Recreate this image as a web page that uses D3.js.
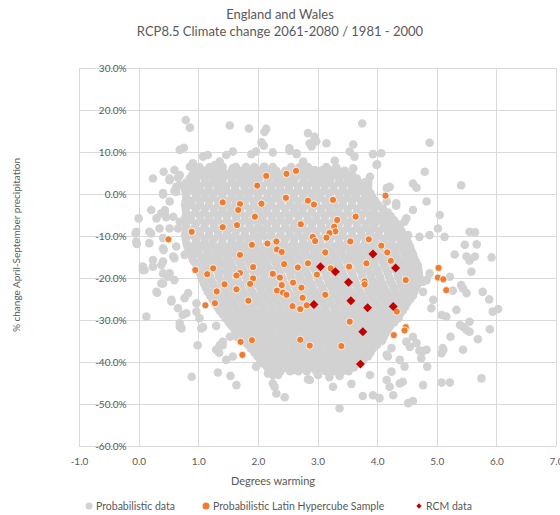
<!DOCTYPE html>
<html><head><meta charset="utf-8">
<script src="https://cdn.jsdelivr.net/npm/d3@7"></script>
<style>
html,body{margin:0;padding:0;background:#fff;}
svg{display:block;font-family:Lato,"Open Sans",sans-serif;}
</style></head>
<body><svg id="c" width="560" height="515"></svg>
<script>
const titleLines = ["England and Wales", "RCP8.5 Climate change 2061-2080 / 1981 - 2000"];
const xLabel = "Degrees warming";
const yLabel = "% change April-September precipitation";
const xTicks = [-1,0,1,2,3,4,5,6,7];
const yTicks = [30,20,10,0,-10,-20,-30,-40,-50,-60];
const seriesNames = ["Probabilistic data","Probabilistic Latin Hypercube Sample","RCM data"];

// Probabilistic data: dense core read row by row [y%, [x...]]
const probRows = [
 [6.4,[1.02,1.19,1.34,1.63,1.8,1.94,2.1,2.25,2.56,2.7,2.84,3.15,3.31]],
 [5.5,[0.97,1.11,1.26,1.41,1.56,1.71,1.86,2.01,2.16,2.31,2.46,2.62,2.76,2.91,3.06,3.21,3.36,3.46]],
 [4.6,[0.9,1.04,1.18,1.35,1.49,1.62,1.79,1.93,2.06,2.22,2.38,2.55,2.67,2.83,2.99,3.12,3.28,3.44,3.58]],
 [3.7,[0.86,0.97,1.12,1.27,1.42,1.57,1.72,1.87,2.02,2.17,2.32,2.47,2.62,2.77,2.92,3.07,3.22,3.37,3.52,3.66]],
 [2.8,[0.8,0.95,1.11,1.25,1.39,1.56,1.7,1.84,1.99,2.16,2.3,2.44,2.59,2.76,2.9,3.04,3.19,3.36,3.5,3.64,3.8]],
 [1.9,[0.79,0.87,1.02,1.17,1.32,1.47,1.62,1.77,1.92,2.07,2.22,2.37,2.52,2.67,2.82,2.97,3.12,3.27,3.42,3.57,3.72,3.82]],
 [1.0,[0.78,0.9,1.03,1.18,1.34,1.47,1.62,1.79,1.93,2.07,2.23,2.38,2.52,2.67,2.83,2.98,3.12,3.27,3.43,3.58,3.72,3.85]],
 [0.1,[0.79,0.96,1.11,1.26,1.41,1.56,1.71,1.86,2.01,2.16,2.31,2.46,2.61,2.76,2.91,3.06,3.21,3.36,3.51,3.66,3.8,3.89]],
 [-0.8,[0.8,0.96,1.1,1.24,1.4,1.56,1.7,1.84,2.0,2.16,2.3,2.44,2.6,2.76,2.9,3.04,3.2,3.36,3.5,3.64,3.8,3.92]],
 [-1.7,[0.79,0.88,1.03,1.18,1.33,1.48,1.63,1.78,1.93,2.08,2.23,2.38,2.53,2.68,2.83,2.98,3.13,3.28,3.43,3.58,3.73,3.86,3.97]],
 [-2.6,[0.78,0.89,1.03,1.18,1.34,1.48,1.62,1.78,1.94,2.08,2.22,2.38,2.54,2.68,2.82,2.98,3.14,3.28,3.42,3.58,3.74,3.88,4.02]],
 [-3.5,[0.79,0.96,1.11,1.26,1.41,1.56,1.71,1.86,2.01,2.16,2.31,2.46,2.61,2.76,2.91,3.06,3.21,3.36,3.51,3.66,3.81,3.96,4.1]],
 [-4.4,[0.8,0.95,1.1,1.26,1.4,1.54,1.7,1.86,2.0,2.14,2.3,2.46,2.6,2.74,2.9,3.06,3.2,3.34,3.5,3.66,3.8,3.94,4.1,4.18]],
 [-5.3,[0.79,0.88,1.03,1.18,1.33,1.48,1.63,1.78,1.93,2.08,2.23,2.38,2.53,2.68,2.83,2.98,3.13,3.28,3.43,3.58,3.73,3.88,4.03,4.15,4.23]],
 [-6.2,[0.78,0.88,1.04,1.18,1.32,1.48,1.64,1.78,1.92,2.08,2.24,2.38,2.52,2.68,2.84,2.98,3.12,3.28,3.44,3.58,3.72,3.88,4.04,4.17,4.28]],
 [-7.1,[0.79,0.96,1.11,1.26,1.41,1.56,1.71,1.86,2.01,2.16,2.31,2.46,2.61,2.76,2.91,3.06,3.21,3.36,3.51,3.66,3.81,3.96,4.11,4.24,4.33]],
 [-8.0,[0.8,0.94,1.1,1.26,1.4,1.54,1.7,1.86,2.0,2.14,2.3,2.46,2.6,2.74,2.9,3.06,3.2,3.34,3.5,3.66,3.8,3.94,4.1,4.25,4.37]],
 [-8.9,[0.79,0.88,1.03,1.18,1.33,1.48,1.63,1.78,1.93,2.08,2.23,2.38,2.53,2.68,2.83,2.98,3.13,3.28,3.43,3.58,3.73,3.88,4.03,4.18,4.31,4.41]],
 [-9.8,[0.78,0.89,1.03,1.18,1.34,1.48,1.62,1.78,1.94,2.08,2.22,2.38,2.54,2.68,2.82,2.98,3.14,3.28,3.42,3.58,3.74,3.88,4.02,4.18,4.32,4.45]],
 [-10.7,[0.79,0.96,1.11,1.26,1.41,1.56,1.71,1.86,2.01,2.16,2.31,2.46,2.61,2.76,2.91,3.06,3.21,3.36,3.51,3.66,3.81,3.96,4.11,4.26,4.39,4.49]],
 [-11.6,[0.8,0.96,1.1,1.24,1.4,1.56,1.7,1.84,2.0,2.16,2.3,2.44,2.6,2.76,2.9,3.04,3.2,3.36,3.5,3.64,3.8,3.96,4.1,4.24,4.4,4.52]],
 [-12.5,[0.82,0.91,1.06,1.21,1.36,1.51,1.66,1.81,1.96,2.11,2.26,2.41,2.56,2.71,2.86,3.01,3.16,3.31,3.46,3.61,3.76,3.91,4.06,4.21,4.36,4.48,4.55]],
 [-13.4,[0.84,0.98,1.14,1.28,1.42,1.58,1.74,1.88,2.02,2.18,2.34,2.48,2.62,2.78,2.94,3.08,3.22,3.38,3.54,3.68,3.82,3.98,4.14,4.28,4.43,4.57]],
 [-14.3,[0.87,1.01,1.16,1.31,1.46,1.61,1.76,1.91,2.06,2.21,2.36,2.51,2.66,2.81,2.96,3.11,3.26,3.41,3.56,3.71,3.86,4.01,4.16,4.31,4.46,4.6]],
 [-15.2,[0.9,1.06,1.2,1.34,1.5,1.66,1.8,1.94,2.1,2.26,2.4,2.54,2.7,2.86,3.0,3.14,3.3,3.46,3.6,3.74,3.9,4.06,4.2,4.34,4.5,4.62]],
 [-16.1,[0.93,1.09,1.24,1.39,1.54,1.69,1.84,1.99,2.14,2.29,2.44,2.59,2.74,2.89,3.04,3.19,3.34,3.49,3.64,3.79,3.94,4.09,4.24,4.39,4.53,4.65]],
 [-17.0,[0.97,1.12,1.28,1.42,1.56,1.72,1.88,2.02,2.16,2.32,2.48,2.62,2.76,2.92,3.08,3.22,3.36,3.52,3.68,3.82,3.96,4.12,4.28,4.42,4.57,4.68]],
 [-17.9,[1.0,1.15,1.3,1.45,1.6,1.75,1.9,2.05,2.2,2.35,2.5,2.65,2.8,2.95,3.1,3.25,3.4,3.55,3.7,3.85,4.0,4.15,4.3,4.45,4.59,4.69]],
 [-18.8,[1.03,1.18,1.34,1.48,1.62,1.78,1.94,2.08,2.22,2.38,2.54,2.68,2.82,2.98,3.14,3.28,3.42,3.58,3.74,3.88,4.02,4.18,4.34,4.48,4.62,4.7]],
 [-19.7,[1.05,1.2,1.35,1.5,1.65,1.8,1.95,2.1,2.25,2.4,2.55,2.7,2.85,3.0,3.15,3.3,3.45,3.6,3.75,3.9,4.05,4.2,4.35,4.5,4.63,4.71]],
 [-20.6,[1.08,1.22,1.38,1.52,1.66,1.82,1.98,2.12,2.26,2.42,2.58,2.72,2.86,3.02,3.18,3.32,3.46,3.62,3.78,3.92,4.06,4.22,4.38,4.52,4.65,4.72]],
 [-21.5,[1.1,1.25,1.4,1.55,1.7,1.85,2.0,2.15,2.3,2.45,2.6,2.75,2.9,3.05,3.2,3.35,3.5,3.65,3.8,3.95,4.1,4.25,4.4,4.54,4.68]],
 [-22.4,[1.13,1.28,1.44,1.58,1.72,1.88,2.04,2.18,2.32,2.48,2.64,2.78,2.92,3.08,3.24,3.38,3.52,3.68,3.84,3.98,4.12,4.28,4.43,4.56,4.65]],
 [-23.3,[1.16,1.31,1.46,1.61,1.76,1.91,2.06,2.21,2.36,2.51,2.66,2.81,2.96,3.11,3.26,3.41,3.56,3.71,3.86,4.01,4.16,4.31,4.46,4.57,4.62]],
 [-24.2,[1.2,1.35,1.5,1.66,1.8,1.94,2.1,2.26,2.4,2.54,2.7,2.86,3.0,3.14,3.3,3.46,3.6,3.74,3.9,4.06,4.2,4.35,4.48,4.6]],
 [-25.1,[1.24,1.39,1.54,1.69,1.84,1.99,2.14,2.29,2.44,2.59,2.74,2.89,3.04,3.19,3.34,3.49,3.64,3.79,3.94,4.09,4.24,4.39,4.5,4.55]],
 [-26.0,[1.28,1.43,1.58,1.74,1.88,2.02,2.18,2.34,2.48,2.62,2.78,2.94,3.08,3.22,3.38,3.54,3.68,3.82,3.98,4.14,4.28,4.41,4.5]],
 [-26.9,[1.32,1.47,1.62,1.77,1.92,2.07,2.22,2.37,2.52,2.67,2.82,2.97,3.12,3.27,3.42,3.57,3.72,3.87,4.02,4.17,4.32,4.43,4.47]],
 [-27.8,[1.36,1.5,1.66,1.8,1.94,2.1,2.26,2.4,2.54,2.7,2.86,3.0,3.14,3.3,3.46,3.6,3.74,3.9,4.06,4.2,4.33,4.43]],
 [-28.7,[1.41,1.56,1.71,1.86,2.01,2.16,2.31,2.46,2.61,2.76,2.91,3.06,3.21,3.36,3.51,3.66,3.81,3.96,4.11,4.25,4.38]],
 [-29.6,[1.46,1.6,1.76,1.9,2.04,2.2,2.36,2.5,2.64,2.8,2.96,3.1,3.24,3.4,3.56,3.7,3.84,4.0,4.16,4.27,4.36]],
 [-30.5,[1.51,1.66,1.81,1.96,2.11,2.26,2.41,2.56,2.71,2.86,3.01,3.16,3.31,3.46,3.61,3.76,3.91,4.06,4.19,4.29]],
 [-31.4,[1.56,1.7,1.86,2.0,2.14,2.3,2.46,2.6,2.74,2.9,3.06,3.2,3.34,3.5,3.66,3.8,3.94,4.1,4.22]],
 [-32.3,[1.61,1.76,1.91,2.06,2.21,2.36,2.51,2.66,2.81,2.96,3.11,3.26,3.41,3.56,3.71,3.86,4.0,4.12,4.18]],
 [-33.2,[1.66,1.8,1.96,2.1,2.24,2.4,2.56,2.7,2.84,3.0,3.16,3.3,3.44,3.6,3.76,3.9,4.03,4.14]],
 [-34.1,[1.72,1.87,2.02,2.17,2.32,2.47,2.62,2.77,2.92,3.07,3.22,3.37,3.52,3.67,3.82,3.96,4.06,4.11]],
 [-35.0,[1.77,1.92,2.08,2.22,2.36,2.52,2.68,2.82,2.96,3.12,3.28,3.42,3.56,3.72,3.88,3.99,4.08]],
 [-35.9,[1.83,1.98,2.13,2.28,2.43,2.58,2.73,2.88,3.03,3.18,3.33,3.48,3.63,3.78,3.92,4.0]],
 [-36.8,[1.88,2.02,2.18,2.32,2.46,2.62,2.78,2.92,3.06,3.22,3.38,3.52,3.66,3.8,3.93]],
 [-37.7,[1.94,2.09,2.24,2.39,2.54,2.69,2.84,2.99,3.14,3.29,3.44,3.59,3.73,3.84,3.89]],
 [-38.6,[1.99,2.14,2.3,2.44,2.58,2.74,2.9,3.04,3.18,3.34,3.5,3.63,3.75,3.85]],
 [-39.5,[2.04,2.19,2.34,2.49,2.64,2.79,2.94,3.09,3.24,3.39,3.54,3.66,3.77]],
 [-40.4,[2.09,2.24,2.4,2.54,2.68,2.84,3.0,3.14,3.28,3.44,3.58,3.7]],
 [-41.3,[2.16,2.31,2.46,2.61,2.76,2.91,3.06,3.21,3.36,3.5,3.61]],
 [-42.2,[2.23,2.38,2.54,2.68,2.82,2.98,3.14,3.28,3.41,3.52]]
];

// Probabilistic data: scattered points outside the core [x, y%]
const probScatter = [
 [0.79,17.6],[0.86,15.8],[1.53,16.3],[1.85,15.6],[2.14,15.5],[2.11,14.8],[2.84,14.5],[3.75,16.8],
 [2.95,13.6],[2.98,12.5],[3.15,12.1],[2.87,12.1],[2.9,11.3],[3.6,11.8],[2.53,10.9],[2.65,9.7],
 [3.54,10.1],[3.62,8.9],[3.93,9.5],[4.07,9.7],[4.0,7.1],[4.88,12.2],[2.76,7.7],[3.29,7.9],
 [2.95,5.7],[3.09,5.7],[3.2,5.7],[3.34,5.5],[3.6,6.1],[4.8,5.3],[4.6,2.5],[4.66,1.5],[5.41,2.1],
 [3.85,2.9],[3.74,2.5],[3.65,2.1],[4.16,1.4],[4.83,-1.8],[4.16,-1.8],[4.32,-2.8],[4.6,-3.8],
 [4.49,-5.8],[5.05,-5.0],[4.02,-5.8],[4.21,-7.4],[4.38,-7.8],[5.02,-8.2],[4.88,-9.8],[5.13,-10.2],
 [5.55,-9.0],[5.64,-9.1],[5.47,-12.1],[5.67,-12.0],[4.71,-10.2],[4.52,-9.8],[5.3,-14.4],[5.55,-15.9],
 [5.92,-15.1],[4.66,-18.5],[4.77,-20.9],[4.88,-18.9],[5.27,-23.0],[5.44,-22.5],[5.5,-23.6],[5.77,-23.3],
 [5.88,-25.1],[6.03,-27.4],[5.94,-28.0],[5.55,-30.4],[5.5,-32.4],[5.23,-34.0],[5.39,-31.2],[5.69,-34.6],
 [5.89,-32.2],[5.1,-36.7],[5.08,-37.9],[5.44,-37.1],[4.83,-37.1],[4.74,-39.1],[4.84,-41.1],[5.75,-43.9],
 [5.08,-44.9],[5.22,-44.9],[4.77,-45.5],[4.38,-45.1],[4.43,-44.7],[4.21,-45.9],[4.27,-47.9],[4.52,-49.8],
 [4.6,-49.3],[4.04,-48.6],[3.93,-47.9],[3.76,-48.1],[4.16,-44.3],[4.24,-42.3],[3.57,-45.2],[3.26,-45.9],
 [3.37,-51.0],[2.87,-44.3],[3.01,-43.1],[3.2,-43.6],[3.37,-43.3],[2.59,-41.9],[3.88,-43.1],[4.46,-41.1],
 [4.38,-39.5],[4.24,-36.7],[4.16,-38.3],[4.55,-36.4],[4.77,-37.4],[4.49,-35.2],[4.71,-37.3],
 [0.69,10.5],[0.76,11.0],[1.08,8.9],[1.16,9.3],[1.47,9.3],[1.58,10.1],[1.89,9.5],[1.97,10.1],
 [2.06,12.3],[2.1,11.5],[2.25,9.9],[2.53,10.3],[2.65,9.5],[0.24,3.7],[0.42,5.3],[0.6,5.7],[0.52,3.3],
 [0.66,3.9],[0.69,2.1],[0.86,6.5],[0.91,7.3],[0.99,4.5],[1.28,6.9],[1.36,7.7],[1.41,6.5],[1.3,5.7],
 [1.58,6.1],[1.69,4.9],[1.81,5.7],[1.92,5.7],[2.11,6.5],[0.41,-0.1],[0.52,-1.8],[0.6,0.7],[0.63,1.7],
 [0.8,1.4],[0.94,2.1],[0.21,-3.8],[0.3,-5.8],[0.44,-4.2],[0.46,-5.5],[0.0,-5.8],[-0.05,-9.4],
 [-0.03,-11.9],[0.21,-9.4],[0.35,-8.2],[0.52,-8.2],[0.69,-6.6],[0.66,-8.2],[0.41,-10.5],[0.1,-18.1],
 [0.24,-17.3],[0.38,-16.9],[0.41,-18.9],[0.49,-19.7],[0.6,-20.5],[0.38,-21.3],[0.31,-23.5],[0.13,-29.2],
 [0.55,-25.6],[0.66,-27.2],[0.69,-31.6],[0.72,-32.0],[0.8,-28.4],[0.77,-24.8],[0.97,-28.0],[1.02,-29.6],
 [1.08,-31.7],[0.99,-36.0],[0.89,-43.5],[1.3,-31.4],[1.3,-37.1],[1.41,-36.0],[1.35,-37.8],[1.47,-39.5],
 [1.58,-38.7],[1.33,-42.5],[1.54,-43.3],[1.64,-45.5],[1.97,-41.1],[2.19,-39.1],[2.17,-42.7],[2.25,-43.1],
 [2.34,-43.1],[2.25,-45.1],[2.28,-45.9],[2.31,-47.5],[2.45,-48.4],[2.37,-40.7],[2.81,-41.1],[2.84,-44.1],
 [1.81,-34.0],[1.64,-34.0],[0.42,-13.3],[0.6,-15.3],[0.77,-14.5],[0.91,-15.7],
 [0.69,4.5],[0.52,3.7],[0.41,0.2],[0.63,0.5],[0.38,-4.6],[0.44,-3.8],[0.58,-5.4],[-0.04,-9.0],
 [-0.04,-11.4],[0.18,-9.0],[0.18,-11.7],[0.41,-12.9],[0.63,-12.5],[0.58,-14.9],[0.24,-15.7],[0.07,-17.3],
 [0.41,-16.1],[0.07,-18.1],[0.52,-18.9],[0.41,-21.3],[0.3,-23.3],[0.55,-25.2],[0.74,-28.8],[0.83,-23.6],
 [0.97,-26.0],[0.69,-30.8],[1.05,-32.0],[1.36,-36.0],[1.41,-35.2],[1.64,-32.8],[1.53,-34.0],
 [4.83,-20.5],[4.77,-23.3],[4.94,-25.2],[4.91,-27.2],[5.08,-28.8],[5.16,-29.2],[5.22,-19.7],[5.5,-14.9],
 [5.58,-18.5],[5.64,-14.9],[5.41,-21.7],[5.33,-27.6],[5.44,-31.6],[5.55,-32.8],[5.11,-37.1],[4.6,-34.0],
 [4.66,-35.5],[4.18,-38.7],[4.46,-6.6],[4.21,-8.6],[3.99,6.9],[3.88,4.1],[3.85,2.1],[4.21,1.7],[4.32,-2.2]
];

// Probabilistic Latin Hypercube Sample [x, y%]
const lhsPoints = [
 [2.14,4.3],[2.48,4.8],[2.64,5.5],[1.99,2.0],[1.41,-2.0],[1.7,-2.4],[1.67,-3.8],[2.06,-2.3],[2.47,-0.9],
 [2.84,-1.6],[1.95,-5.4],[1.41,-7.9],[1.65,-7.4],[2.72,-7.2],[0.89,-9.0],[0.5,-10.8],[1.9,-12.1],
 [2.16,-11.8],[2.31,-11.3],[2.32,-13.2],[2.4,-13.8],[1.7,-14.5],[2.44,-16.7],[1.92,-17.4],[1.25,-17.7],
 [0.95,-18.1],[1.15,-19.1],[1.7,-18.8],[1.64,-19.4],[1.92,-20.1],[1.87,-21.4],[1.44,-21.5],[2.25,-19.0],
 [2.37,-19.9],[2.4,-21.7],[2.67,-17.5],[2.84,-16.5],[2.73,-22.3],[1.31,-23.2],[1.64,-22.7],[2.32,-23.0],
 [2.42,-23.5],[2.48,-24.0],[2.75,-24.7],[1.84,-25.4],[1.28,-26.0],[1.12,-26.5],[2.58,-26.7],[2.71,-27.4],
 [2.82,-26.5],[1.71,-35.2],[1.9,-34.8],[1.74,-38.3],[2.71,-34.7],[2.87,-36.1],[4.14,-0.4],[2.94,-2.5],
 [3.26,-1.4],[3.64,-5.4],[3.33,-6.2],[3.28,-7.8],[3.3,-8.9],[3.2,-9.3],[3.15,-10.4],[2.92,-10.2],
 [2.96,-11.2],[3.55,-11.3],[3.86,-10.8],[4.07,-12.3],[3.13,-13.9],[4.17,-13.9],[4.23,-15.9],[3.82,-16.5],
 [3.53,-17.3],[5.03,-17.6],[5.02,-19.9],[5.11,-20.3],[5.16,-22.9],[4.48,-20.5],[2.99,-19.2],[3.22,-17.7],
 [3.79,-20.8],[3.79,-21.5],[2.59,-21.1],[3.13,-24.0],[4.33,-28.0],[3.54,-30.4],[4.48,-31.7],[4.46,-32.5],
 [4.28,-33.6],[3.4,-36.2]
];

// RCM data [x, y%]
const rcmPoints = [
 [3.93,-14.3],[3.05,-17.3],[3.3,-18.5],[4.31,-17.6],[3.52,-21.0],[3.56,-25.4],[2.94,-26.3],
 [3.84,-27.1],[4.27,-26.8],[3.76,-32.8],[3.72,-40.5]
];

const probPoints = [];
probRows.forEach(r => r[1].forEach(xv => probPoints.push([xv, r[0]])));
probScatter.forEach(p => probPoints.push(p));

const svg = d3.select("#c");
const W = 560, H = 515;
const L = 79, R = 556, T = 68, B = 446;
const x = d3.scaleLinear().domain([-1,7]).range([L,R]);
const y = d3.scaleLinear().domain([-60,30]).range([B,T]);
const txt = "#595959", grid = "#d9d9d9";

svg.append("rect").attr("width",W).attr("height",H).attr("fill","#fff");

// gridlines
const g = svg.append("g").attr("shape-rendering","crispEdges");
g.selectAll("line.v").data(xTicks).join("line").attr("class","v")
 .attr("x1",d=>Math.round(x(d))+0.5).attr("x2",d=>Math.round(x(d))+0.5)
 .attr("y1",T).attr("y2",B).attr("stroke",grid);
g.selectAll("line.h").data(yTicks).join("line").attr("class","h")
 .attr("y1",d=>Math.round(y(d))+0.5).attr("y2",d=>Math.round(y(d))+0.5)
 .attr("x1",L).attr("x2",R).attr("stroke",grid);

// axes labels
const ya = svg.append("g").attr("transform",`translate(${x(0)},0)`)
 .call(d3.axisLeft(y).tickValues(yTicks).tickSize(0).tickPadding(12).tickFormat(d=>d.toFixed(1)+"%"));
ya.select(".domain").remove();
ya.selectAll("text").attr("fill",txt).style("font-size","10px").style("font-family","Lato, sans-serif");

const xa = svg.append("g").attr("transform",`translate(0,${B})`)
 .call(d3.axisBottom(x).tickValues(xTicks).tickSize(0).tickPadding(12).tickFormat(d=>d.toFixed(1)));
xa.select(".domain").remove();
xa.selectAll("text").attr("fill",txt).style("font-size","10px").style("font-family","Lato, sans-serif");

// points
svg.append("g").selectAll("circle").data(probPoints).join("circle")
 .attr("cx",d=>x(d[0])).attr("cy",d=>y(d[1])).attr("r",4.3).attr("fill","#d2d2d2");
svg.append("g").selectAll("circle").data(lhsPoints).join("circle")
 .attr("cx",d=>x(d[0])).attr("cy",d=>y(d[1])).attr("r",3.6).attr("fill","#ed7d31")
 .attr("stroke","#fff").attr("stroke-width",0.8);
const diamond = d3.symbol().type(d3.symbolSquare).size(40);
svg.append("g").selectAll("path").data(rcmPoints).join("path")
 .attr("d",diamond).attr("transform",d=>`translate(${x(d[0])},${y(d[1])}) rotate(45)`)
 .attr("fill","#c00000");

// titles
svg.append("g").selectAll("text").data(titleLines).join("text")
 .attr("x",280).attr("y",(d,i)=>19+i*16.5).attr("text-anchor","middle")
 .attr("fill",txt).style("font-size","13px").text(d=>d);
svg.append("text").attr("x",273).attr("y",485).attr("text-anchor","middle")
 .attr("fill",txt).style("font-size","11px").text(xLabel);
svg.append("text").attr("transform","translate(20,245) rotate(-90)").attr("text-anchor","middle")
 .attr("fill",txt).style("font-size","10px").text(yLabel);

// legend
const lg = svg.append("g").attr("fill",txt).style("font-size","10.5px");
const legX = [89,206,419];
lg.append("circle").attr("cx",legX[0]).attr("cy",506).attr("r",3.5).attr("fill","#d2d2d2");
lg.append("circle").attr("cx",legX[1]).attr("cy",506).attr("r",3.5).attr("fill","#ed7d31");
lg.append("path").attr("d",d3.symbol().type(d3.symbolSquare).size(14)).attr("transform",`translate(${legX[2]},506) rotate(45)`).attr("fill","#c00000");
seriesNames.forEach((s,i)=>{
 lg.append("text").attr("x",legX[i]+7).attr("y",510).text(s);
});
</script></body></html>
